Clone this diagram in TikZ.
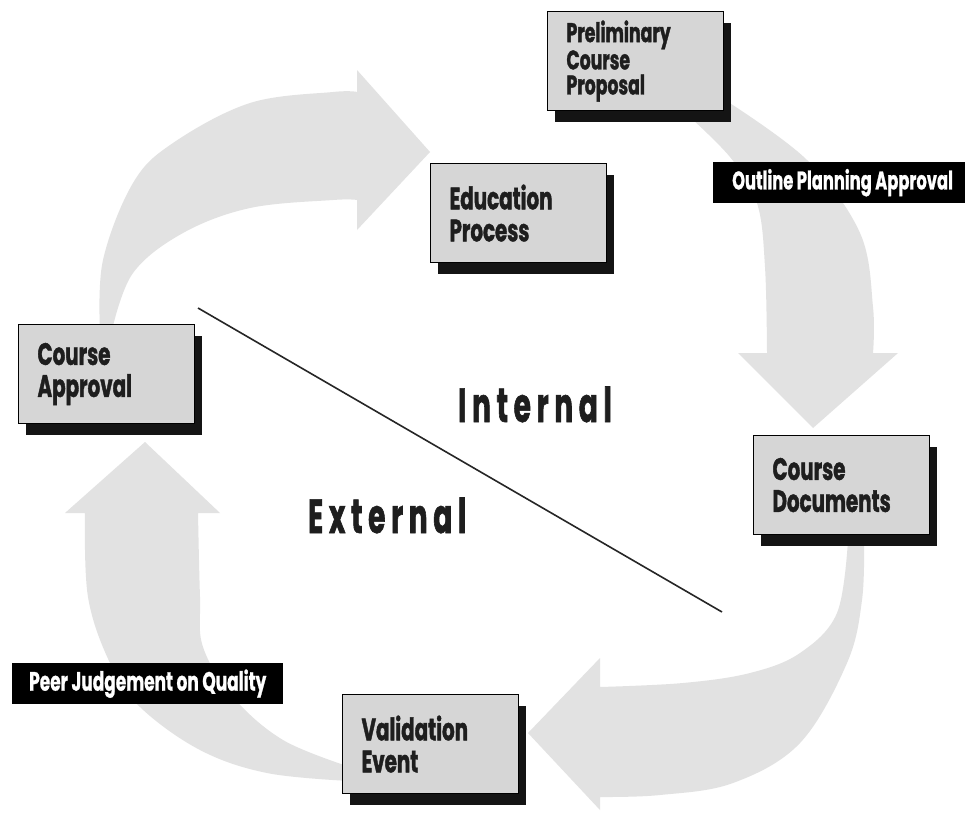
\documentclass[tikz,border=0pt]{standalone}
\usepackage{fontspec}
\usetikzlibrary{shadows}
\newfontfamily\boxfont{Poppins}[FakeStretch=0.64, FakeBold=1.2]
\newfontfamily\tagfont{Poppins}[FakeStretch=0.64, FakeBold=0.8]
\newfontfamily\bigfont{Poppins}[FakeStretch=0.58, LetterSpace=12, FakeBold=1.2]
\definecolor{arrowgray}{HTML}{E2E2E2}
\definecolor{boxgray}{HTML}{D6D6D6}
\definecolor{textdark}{HTML}{1E1E1E}
\begin{document}
\begin{tikzpicture}[x=1pt,y=-1pt,
  flow/.style={fill=arrowgray},
  stage/.style={draw=black, line width=1.1pt, fill=boxgray, anchor=north west,
    minimum width=176pt, minimum height=99pt, inner xsep=19pt, text width=138pt,
    align=left, text=textdark,
    font={\boxfont\bfseries\fontsize{31}{32}\selectfont},
    drop shadow={shadow xshift=7pt, shadow yshift=-11pt, fill=black!92, opacity=1}},
  tag/.style={fill=black, text=white, anchor=north west, inner xsep=17pt,
    minimum height=41pt, font={\tagfont\bfseries\fontsize{26.5}{28}\selectfont}},
  side/.style={anchor=base west, inner sep=0pt, text=textdark,
    font={\bigfont\bfseries\fontsize{48}{50}\selectfont}},
]
\useasboundingbox (0,0) rectangle (965,814);
\fill[white] (0,0) rectangle (965,814);

% big curved flow arrows
\fill[flow] plot[smooth, tension=0.6] coordinates {(100,330) (103,260) (133,183) (173,143) (250,103) (333,92) (357,92)}
  -- (357,70) -- (430,152) -- (357,230) -- (357,200)
  -- plot[smooth, tension=0.6] coordinates {(357,200) (333,200) (250,208) (183,233) (133,273) (112,330)} -- cycle;

\fill[flow] plot[smooth, tension=0.6] coordinates {(725,100) (807,160) (860,233) (873,307) (873,353)}
  -- (898,353) -- (813,428) -- (738,353) -- (767,353)
  -- plot[smooth, tension=0.6] coordinates {(767,353) (765,267) (757,203) (730,157) (680,108)} -- cycle;

\fill[flow] plot[smooth, tension=0.6] coordinates {(864,540) (862,600) (847,663) (800,743) (733,783) (660,795) (600,797)}
  -- (600,810) -- (528,733) -- (600,658) -- (600,687)
  -- plot[smooth, tension=0.6] coordinates {(600,687) (683,683) (750,673) (800,653) (837,613) (848,540)} -- cycle;

\fill[flow] plot[smooth, tension=0.6] coordinates {(350,781) (267,773) (200,750) (140,707) (110,663) (88,597) (85,513)}
  -- (65,513) -- (145,442) -- (220,513) -- (198,513)
  -- plot[smooth, tension=0.6] coordinates {(198,513) (200,597) (203,647) (233,697) (283,740) (350,767)} -- cycle;

% divider line
\coordinate (ls) at (198,308);
\coordinate (le) at (722,612);
\draw[line width=1.6pt, black!85] (ls) -- (le);

% stage boxes
\node[stage, font={\boxfont\bfseries\fontsize{27}{25}\selectfont}] (prop) at (547,11) {Preliminary\\Course\\Proposal};
\node[stage] (edu) at (430,163) {Education\\Process};
\node[stage] (appr) at (18,324) {Course\\Approval};
\node[stage] (docs) at (753,435) {Course\\Documents};
\node[stage] (valid) at (342,694) {Validation\\Event};

% black tags
\node[tag, inner xsep=19pt, font={\tagfont\bfseries\fontsize{25.5}{27}\selectfont}] (opa) at (713,162) {\makebox[224pt][l]{Outline Planning Approval}};
\node[tag] (pjq) at (12,663) {Peer Judgement on Quality};

% region labels
\node[side] (internal) at (458,422) {Internal};
\node[side] (external) at (308,533) {External};
\end{tikzpicture}
\end{document}
